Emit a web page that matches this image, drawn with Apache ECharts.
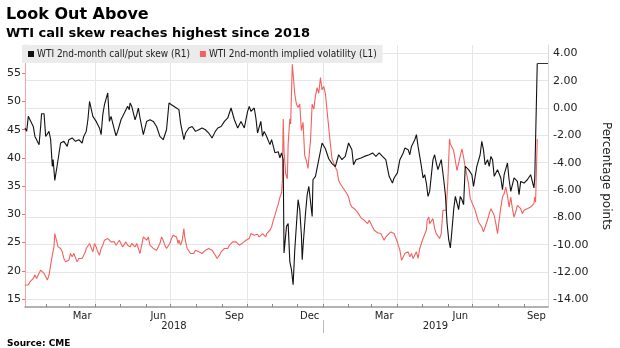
<!DOCTYPE html>
<html><head><meta charset="utf-8">
<script src="https://cdn.jsdelivr.net/npm/echarts@6/dist/echarts.min.js"></script>
<style>html,body{margin:0;padding:0;background:#fff}#c{width:620px;height:348px}</style>
</head><body><div id="c"></div>
<script>
const titleText = 'Look Out Above';
const subtitleText = 'WTI call skew reaches highest since 2018';
const sourceText = 'Source: CME';
const skewName = 'WTI 2nd-month call/put skew (R1)';
const volName = 'WTI 2nd-month implied volatility (L1)';

const skewDates = ['2018-01-06','2018-01-08','2018-01-10','2018-01-12','2018-01-14','2018-01-16','2018-01-18','2018-01-20','2018-01-22','2018-01-23','2018-01-25','2018-01-26','2018-01-29','2018-01-31','2018-02-02','2018-02-04','2018-02-06','2018-02-08','2018-02-09','2018-02-11','2018-02-14','2018-02-18','2018-02-22','2018-02-26','2018-02-28','2018-03-04','2018-03-08','2018-03-12','2018-03-16','2018-03-18','2018-03-21','2018-03-23','2018-03-25','2018-03-27','2018-03-29','2018-04-02','2018-04-04','2018-04-06','2018-04-08','2018-04-10','2018-04-12','2018-04-16','2018-04-18','2018-04-20','2018-04-22','2018-04-24','2018-04-26','2018-04-28','2018-05-02','2018-05-04','2018-05-08','2018-05-10','2018-05-12','2018-05-13','2018-05-15','2018-05-17','2018-05-19','2018-05-21','2018-05-23','2018-05-25','2018-05-29','2018-06-02','2018-06-06','2018-06-10','2018-06-14','2018-06-18','2018-06-22','2018-06-26','2018-06-29','2018-07-02','2018-07-04','2018-07-08','2018-07-11','2018-07-13','2018-07-17','2018-07-19','2018-07-23','2018-07-27','2018-07-31','2018-08-04','2018-08-08','2018-08-12','2018-08-16','2018-08-20','2018-08-24','2018-08-27','2018-08-31','2018-09-04','2018-09-08','2018-09-12','2018-09-16','2018-09-20','2018-09-24','2018-09-28','2018-10-02','2018-10-04','2018-10-06','2018-10-10','2018-10-12','2018-10-14','2018-10-18','2018-10-20','2018-10-22','2018-10-25','2018-10-27','2018-10-29','2018-10-31','2018-11-04','2018-11-06','2018-11-08','2018-11-10','2018-11-12','2018-11-14','2018-11-15','2018-11-16','2018-11-18','2018-11-20','2018-11-22','2018-11-24','2018-11-26','2018-11-28','2018-11-30','2018-12-02','2018-12-04','2018-12-06','2018-12-07','2018-12-08','2018-12-11','2018-12-13','2018-12-15','2018-12-17','2018-12-19','2018-12-20','2018-12-23','2018-12-27','2018-12-31','2019-01-04','2019-01-08','2019-01-12','2019-01-16','2019-01-20','2019-01-24','2019-01-28','2019-02-01','2019-02-05','2019-02-07','2019-02-10','2019-02-16','2019-02-20','2019-02-26','2019-03-02','2019-03-06','2019-03-10','2019-03-14','2019-03-18','2019-03-22','2019-03-26','2019-03-28','2019-04-01','2019-04-04','2019-04-08','2019-04-10','2019-04-14','2019-04-16','2019-04-18','2019-04-22','2019-04-24','2019-04-26','2019-04-30','2019-05-02','2019-05-04','2019-05-06','2019-05-08','2019-05-10','2019-05-14','2019-05-16','2019-05-18','2019-05-20','2019-05-24','2019-05-27','2019-05-29','2019-05-31','2019-06-02','2019-06-04','2019-06-06','2019-06-08','2019-06-10','2019-06-12','2019-06-14','2019-06-16','2019-06-18','2019-06-20','2019-06-22','2019-06-26','2019-06-30','2019-07-02','2019-07-06','2019-07-10','2019-07-12','2019-07-14','2019-07-16','2019-07-19','2019-07-21','2019-07-23','2019-07-25','2019-07-27','2019-07-31','2019-08-04','2019-08-06','2019-08-08','2019-08-12','2019-08-14','2019-08-16','2019-08-20','2019-08-24','2019-08-26','2019-08-28','2019-09-01','2019-09-05','2019-09-09','2019-09-11','2019-09-13','2019-09-14','2019-09-16','2019-09-17'];
const skewValues = [-1.46,-1.71,-0.61,-0.86,-0.73,-1.35,-2.08,-2.32,-2.32,-2.68,-1.29,-0.42,-0.42,-2.08,-2.19,-1.71,-2.32,-4.27,-3.78,-5.30,-4.15,-2.56,-2.44,-2.81,-2.32,-2.19,-2.44,-2.32,-2.56,-2.08,-1.71,-0.86,0.48,0.37,-0.61,-0.98,-1.22,-1.46,-1.95,-0.49,0.24,1.10,-0.98,-0.61,-1.10,-1.59,-2.03,-1.71,-0.86,-0.98,-0.12,0.12,-0.12,0.37,0.12,-0.37,-0.86,-0.49,0.00,-0.73,-1.95,-0.98,-0.86,-0.98,-1.35,-2.08,-2.32,-1.59,0.37,0.24,0.37,0.00,-0.12,-1.10,-2.32,-1.83,-1.46,-1.35,-1.71,-1.59,-1.46,-1.59,-1.83,-2.19,-1.71,-1.46,-1.35,-0.98,-0.73,0.00,-0.86,-1.46,-0.98,-1.46,-0.25,0.12,-0.25,0.00,-0.73,-1.83,-0.98,-2.08,-1.71,-2.08,-2.19,-2.68,-2.32,-3.27,-3.29,-3.20,-3.64,-3.29,-3.78,-10.61,-10.49,-8.66,-8.46,-11.24,-11.83,-12.93,-10.37,-8.54,-6.71,-7.44,-9.27,-11.10,-10.12,-7.68,-6.34,-5.74,-5.61,-7.93,-5.25,-5.00,-3.78,-2.56,-2.98,-3.71,-4.07,-4.29,-3.42,-3.78,-3.54,-2.56,-3.05,-4.15,-3.78,-3.66,-3.54,-3.42,-3.29,-3.54,-3.29,-3.54,-3.78,-5.00,-5.49,-5.12,-4.75,-3.78,-3.29,-2.93,-3.05,-3.42,-2.81,-2.32,-1.95,-2.81,-4.27,-5.12,-4.88,-5.49,-6.47,-6.10,-3.78,-3.42,-4.02,-4.51,-3.78,-5.25,-6.34,-8.41,-9.63,-10.24,-8.90,-7.44,-6.47,-6.95,-7.44,-6.47,-6.71,-7.07,-4.27,-4.51,-4.88,-5.74,-4.27,-3.42,-2.44,-3.05,-4.15,-3.78,-4.27,-3.54,-3.78,-5.00,-4.51,-5.12,-5.98,-4.88,-4.02,-5.25,-6.10,-5.12,-5.37,-6.34,-5.37,-5.49,-5.25,-4.88,-5.00,-5.85,-5.12,-5.25,3.25];

const volDates = ['2018-01-06','2018-01-08','2018-01-10','2018-01-12','2018-01-14','2018-01-16','2018-01-18','2018-01-20','2018-01-22','2018-01-23','2018-01-25','2018-01-27','2018-01-29','2018-01-31','2018-02-02','2018-02-04','2018-02-06','2018-02-08','2018-02-10','2018-02-11','2018-02-13','2018-02-15','2018-02-18','2018-02-20','2018-02-22','2018-02-24','2018-02-26','2018-02-28','2018-03-02','2018-03-04','2018-03-06','2018-03-08','2018-03-10','2018-03-12','2018-03-14','2018-03-16','2018-03-18','2018-03-20','2018-03-21','2018-03-23','2018-03-25','2018-03-27','2018-03-29','2018-03-31','2018-04-02','2018-04-04','2018-04-06','2018-04-08','2018-04-10','2018-04-12','2018-04-14','2018-04-16','2018-04-18','2018-04-20','2018-04-22','2018-04-24','2018-04-26','2018-04-28','2018-04-30','2018-05-02','2018-05-04','2018-05-06','2018-05-08','2018-05-10','2018-05-12','2018-05-13','2018-05-15','2018-05-17','2018-05-19','2018-05-21','2018-05-23','2018-05-25','2018-05-27','2018-05-29','2018-05-31','2018-06-02','2018-06-04','2018-06-06','2018-06-08','2018-06-10','2018-06-12','2018-06-14','2018-06-16','2018-06-18','2018-06-20','2018-06-22','2018-06-24','2018-06-26','2018-06-28','2018-06-30','2018-07-02','2018-07-04','2018-07-06','2018-07-08','2018-07-10','2018-07-11','2018-07-13','2018-07-15','2018-07-17','2018-07-18','2018-07-20','2018-07-21','2018-07-23','2018-07-25','2018-07-27','2018-07-29','2018-07-31','2018-08-02','2018-08-04','2018-08-06','2018-08-08','2018-08-10','2018-08-12','2018-08-16','2018-08-18','2018-08-20','2018-08-24','2018-08-26','2018-08-27','2018-08-29','2018-08-31','2018-09-04','2018-09-06','2018-09-08','2018-09-10','2018-09-12','2018-09-14','2018-09-16','2018-09-18','2018-09-20','2018-09-22','2018-09-24','2018-09-26','2018-09-28','2018-09-30','2018-10-02','2018-10-04','2018-10-06','2018-10-08','2018-10-10','2018-10-12','2018-10-14','2018-10-16','2018-10-18','2018-10-20','2018-10-22','2018-10-24','2018-10-25','2018-10-27','2018-10-29','2018-10-31','2018-11-02','2018-11-04','2018-11-06','2018-11-08','2018-11-10','2018-11-12','2018-11-13','2018-11-14','2018-11-15','2018-11-17','2018-11-19','2018-11-20','2018-11-22','2018-11-23','2018-11-25','2018-11-28','2018-11-30','2018-12-02','2018-12-04','2018-12-06','2018-12-08','2018-12-10','2018-12-12','2018-12-14','2018-12-15','2018-12-17','2018-12-19','2018-12-21','2018-12-23','2018-12-25','2018-12-27','2018-12-29','2018-12-31','2019-01-02','2019-01-04','2019-01-06','2019-01-08','2019-01-10','2019-01-12','2019-01-14','2019-01-16','2019-01-18','2019-01-20','2019-01-22','2019-01-24','2019-01-26','2019-01-28','2019-01-30','2019-02-01','2019-02-03','2019-02-05','2019-02-07','2019-02-08','2019-02-10','2019-02-12','2019-02-14','2019-02-16','2019-02-20','2019-02-22','2019-02-24','2019-02-26','2019-02-28','2019-03-02','2019-03-04','2019-03-08','2019-03-12','2019-03-16','2019-03-18','2019-03-20','2019-03-24','2019-03-26','2019-03-28','2019-04-01','2019-04-02','2019-04-04','2019-04-06','2019-04-08','2019-04-10','2019-04-12','2019-04-14','2019-04-16','2019-04-18','2019-04-20','2019-04-22','2019-04-24','2019-04-26','2019-04-28','2019-04-30','2019-05-02','2019-05-04','2019-05-06','2019-05-07','2019-05-09','2019-05-10','2019-05-12','2019-05-14','2019-05-16','2019-05-18','2019-05-20','2019-05-22','2019-05-24','2019-05-26','2019-05-28','2019-05-30','2019-06-01','2019-06-03','2019-06-04','2019-06-06','2019-06-08','2019-06-10','2019-06-12','2019-06-14','2019-06-16','2019-06-18','2019-06-20','2019-06-22','2019-06-26','2019-06-28','2019-07-04','2019-07-08','2019-07-12','2019-07-14','2019-07-16','2019-07-20','2019-07-21','2019-07-23','2019-07-25','2019-07-27','2019-07-29','2019-07-31','2019-08-02','2019-08-04','2019-08-06','2019-08-08','2019-08-10','2019-08-12','2019-08-14','2019-08-16','2019-08-18','2019-08-20','2019-08-22','2019-08-24','2019-08-26','2019-08-28','2019-08-30','2019-09-01','2019-09-05','2019-09-09','2019-09-11','2019-09-13','2019-09-14','2019-09-15','2019-09-17'];
const volValues = [17.47,17.77,17.47,18.05,18.05,18.65,19.24,18.65,18.94,19.54,20.12,19.82,19.54,19.54,18.35,19.24,21.00,22.76,24.23,26.59,26.70,24.23,23.95,23.35,22.18,21.58,21.30,21.88,23.06,22.46,23.06,22.76,21.58,22.18,22.46,22.18,22.76,23.35,23.95,24.23,24.83,24.53,23.35,24.83,24.23,23.35,22.76,23.95,24.53,25.41,25.11,25.71,25.41,25.11,25.41,25.11,24.53,24.83,25.41,25.71,24.23,24.53,25.11,24.53,24.83,24.23,24.83,24.53,24.23,24.83,23.95,23.06,24.53,25.99,26.29,25.41,25.99,24.53,24.23,23.95,24.23,23.65,23.35,24.83,25.99,25.41,24.53,23.95,23.95,24.83,25.71,26.29,26.59,25.99,24.83,25.41,24.53,25.41,27.48,25.99,24.53,23.95,23.65,23.06,22.76,23.06,23.65,23.65,23.35,23.65,23.06,23.35,23.65,23.95,24.23,23.65,22.76,22.18,22.18,22.76,23.35,23.95,24.23,23.95,24.53,24.83,25.11,25.41,25.11,24.83,24.53,24.83,24.93,25.11,25.41,25.11,25.71,26.59,26.70,26.29,26.29,26.47,25.99,26.29,26.59,26.29,25.99,26.59,26.29,27.18,27.76,28.94,29.82,30.88,31.76,33.00,33.79,36.00,46.89,41.29,37.18,36.30,42.48,46.94,46.00,56.59,51.30,49.53,48.93,49.53,44.82,46.29,40.41,39.53,38.12,39.88,43.06,49.53,48.65,51.00,52.46,51.44,54.23,52.06,52.67,51.35,48.35,45.41,42.48,39.88,39.53,38.35,37.76,36.00,35.42,35.70,34.53,34.82,33.65,33.05,31.89,31.29,31.41,31.00,31.29,30.35,30.12,29.38,28.94,29.24,28.36,28.94,28.59,27.76,27.18,26.73,26.59,25.41,25.99,26.29,26.88,27.18,26.59,25.11,24.53,23.65,21.88,22.46,23.06,22.76,23.35,22.46,23.06,22.18,22.46,23.35,22.18,23.95,24.83,25.71,25.41,27.18,28.94,29.52,28.36,28.64,29.24,27.48,26.59,26.29,25.71,26.59,30.71,31.00,30.71,36.00,43.36,42.48,41.87,41.29,39.53,37.76,38.06,40.41,41.59,40.11,38.35,35.42,32.82,30.71,28.64,27.76,26.88,27.76,29.52,30.12,31.00,30.41,29.82,28.36,26.59,28.94,31.29,33.05,33.65,34.82,33.30,31.29,33.05,31.00,29.52,30.41,31.59,31.89,31.00,30.12,30.71,31.00,31.29,31.00,31.89,33.05,32.17,43.36];

const xMin = '2018-01-06';
const xMax = '2019-09-30';
const monthTicks = ['2018-02-01','2018-03-01','2018-04-01','2018-05-01','2018-06-01','2018-07-01','2018-08-01','2018-09-01','2018-10-01','2018-11-01','2018-12-01','2019-01-01','2019-02-01','2019-03-01','2019-04-01','2019-05-01','2019-06-01','2019-07-01','2019-08-01','2019-09-01'];
const gridDates = ['2018-04-01','2018-07-01','2018-10-01','2019-01-01','2019-04-01','2019-07-01'];
const monthLabelDates = ['2018-03-16','2018-06-16','2018-09-16','2018-12-16','2019-03-16','2019-06-16','2019-09-16'];
const monthNames = ['Jan','Feb','Mar','Apr','May','Jun','Jul','Aug','Sep','Oct','Nov','Dec'];
const yearStarts = ['2019-01-01'];
const years = [2018, 2019];
const leftTicks = [15,20,25,30,35,40,45,50,55];
const rightTicks = [-14,-12,-10,-8,-6,-4,-2,0,2,4];

function ts(s){const p=s.split('-');return Date.UTC(+p[0],+p[1]-1,+p[2]);}
const xMinT = ts(xMin), xMaxT = ts(xMax);
const yearLabelPos = years.map(y => {
  const a = Math.max(xMinT, Date.UTC(y,0,1));
  const b = Math.min(xMaxT, Date.UTC(y+1,0,1));
  return (a+b)/2;
});

const chart = echarts.init(document.getElementById('c'), null, {renderer:'canvas'});
const font = 'DejaVu Sans';
const lastIdx = skewDates.length - 1;

const option = {
  animation: false,
  backgroundColor: '#fff',
  title: [
    {text: titleText, left: 1, top: 2, textStyle:{fontFamily: font, fontWeight:'bold', fontSize:16, color:'#000'}},
    {text: subtitleText, left: 1, top: 22, textStyle:{fontFamily: font, fontWeight:'bold', fontSize:13, color:'#000'}},
    {text: sourceText, left: 2, top: 334, textStyle:{fontFamily: font, fontWeight:'bold', fontSize:9, color:'#000'}}
  ],
  legend: {
    left: 22, top: 45, selectedMode: false,
    backgroundColor: '#ebebeb', padding: [4, 6, 4, 6],
    itemWidth: 6, itemHeight: 6, itemGap: 10,
    textStyle: {fontFamily: 'DejaVu Sans Condensed', fontSize: 10, color: '#222', padding:[0,0,0,-2]},
    data: [{name: skewName, icon:'rect'}, {name: volName, icon:'rect'}]
  },
  grid: {left: 25, right: 57.7, top: 45, bottom: 41, containLabel: false},
  xAxis: [
    {type:'value', min: xMinT, max: xMaxT, position:'bottom',
     axisLine:{show:true, onZero:false, lineStyle:{color:'#999', width:1.5}},
     axisTick:{show:true, inside:true, length:3, customValues: monthTicks.map(ts), lineStyle:{color:'#888'}},
     axisLabel:{customValues: monthLabelDates.map(ts), formatter: v => monthNames[new Date(v).getUTCMonth()], fontFamily: font, fontSize:10, color:'#222', margin:4},
     splitLine:{show:false}},
    {type:'value', min: xMinT, max: xMaxT, position:'bottom',
     axisLine:{show:false, onZero:false},
     axisTick:{show:false, customValues: gridDates.map(ts)},
     axisLabel:{show:false},
     splitLine:{show:true, lineStyle:{color:'#e6e6e6', width:1}}},
    {type:'value', min: xMinT, max: xMaxT, position:'bottom', offset: 13,
     axisLine:{show:false, onZero:false},
     axisTick:{show:true, length:13, customValues: yearStarts.map(ts), lineStyle:{color:'#bbb'}},
     axisLabel:{customValues: yearLabelPos, formatter: v => String(new Date(v).getUTCFullYear()), fontFamily: font, fontSize:10, color:'#222', margin:1},
     splitLine:{show:false}}
  ],
  yAxis: [
    {type:'value', min: 13.58, max: 60, position:'left',
     axisLine:{show:true, onZero:false, lineStyle:{color:'#f5a5a5'}},
     axisTick:{show:true, length:3, customValues: leftTicks, lineStyle:{color:'#f07070'}},
     axisLabel:{customValues: leftTicks, fontFamily: font, fontSize:11, color:'#222', margin:4},
     splitLine:{show:false}},
    {type:'value', min: -14.56, max: 4.61, position:'right',
     axisLine:{show:true, onZero:false, lineStyle:{color:'#d8d8d8'}},
     axisTick:{show:false, customValues: rightTicks},
     axisLabel:{customValues: rightTicks, formatter: v => v.toFixed(2), fontFamily: font, fontSize:11, color:'#222', margin:5},
     splitLine:{show:true, lineStyle:{color:'#e6e6e6', width:1}},
     name: 'Percentage points', nameLocation:'middle', nameRotate:-90, nameGap:52,
     nameTextStyle:{fontFamily: font, fontSize:12, color:'#222'}}
  ],
  series: [
    {name: volName, type:'line', xAxisIndex:0, yAxisIndex:0, showSymbol:false, symbol:'none',
     color:'#f4605e', lineStyle:{color:'#f4605e', width:1.1},
     data: volDates.map((d,i)=>[ts(d), volValues[i]])},
    {name: skewName, type:'line', xAxisIndex:0, yAxisIndex:1, showSymbol:false, symbol:'none',
     color:'#111', lineStyle:{color:'#111', width:1.1},
     data: skewDates.map((d,i)=>[ts(d), skewValues[i]]),
     markLine:{silent:true, symbol:['none','none'], label:{show:false}, lineStyle:{color:'#333', width:1, type:'solid'},
       data:[[{coord:[ts(skewDates[lastIdx]), skewValues[lastIdx]]},{coord:[xMaxT, skewValues[lastIdx]]}]]}}
  ]
};
chart.setOption(option);
</script></body></html>
